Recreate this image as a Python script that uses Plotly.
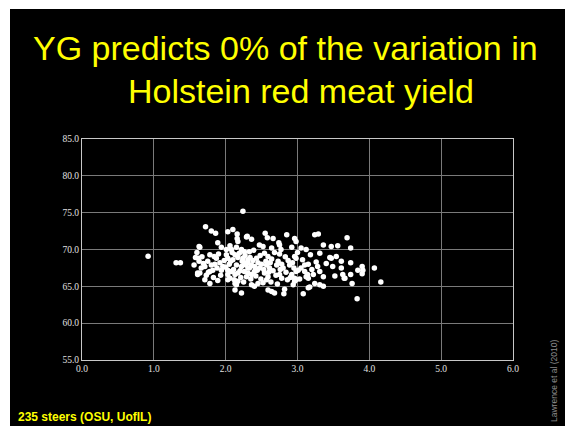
import plotly.graph_objects as go

# Yield grade (x) vs. red meat yield % (y) for 235 Holstein steers
yield_grade = [
    0.92, 1.31, 1.37, 1.58, 1.61, 1.63, 1.63,
    2.24, 1.72, 1.80, 1.86, 2.03, 2.10, 2.16, 2.16, 2.17, 2.29,
    1.64, 1.89, 1.94, 2.06, 2.08, 2.01, 2.15, 2.22, 2.26,
    1.62, 1.78, 1.84, 1.87, 1.75, 1.71, 1.66,
    1.80, 1.82, 1.78, 1.92, 1.96, 1.94,
    2.03, 2.07, 2.10, 2.13, 2.17, 2.24, 2.31, 2.15,
    2.22, 2.26, 2.31, 2.03,
    2.08, 2.13, 2.17, 1.64,
    1.61, 1.71, 1.78, 1.89, 2.03, 2.03, 2.13,
    2.15, 2.17, 2.13, 2.22, 2.26, 2.29,
    2.30, 2.36, 2.55, 2.58, 2.66, 2.85, 2.96, 2.98,
    2.47, 2.52, 2.33, 2.64, 2.75, 2.77, 2.92,
    2.54, 2.59, 2.64, 2.75, 2.96,
    2.31, 2.36, 2.40, 2.33, 2.45, 2.47, 2.57, 2.61,
    2.73, 2.78, 2.80, 2.89, 2.95, 2.98,
    2.31, 2.36, 2.40, 2.54, 2.59, 2.57, 2.75, 2.78,
    2.92, 2.96, 2.98,
    2.36, 2.40, 2.45, 2.59, 2.64, 2.68, 2.82, 2.81,
    2.94, 2.96,
    3.24, 3.29, 3.36, 3.47, 3.56, 3.69,
    3.05, 3.12, 3.31, 3.45, 3.47, 3.54, 3.61,
    2.98, 3.26, 3.10, 3.15, 3.05, 3.01,
    3.31, 3.36, 3.49, 3.61,
    3.10, 3.14, 3.15, 3.12, 3.63, 3.65,
    3.24, 3.31, 3.36, 3.15, 3.17, 3.08,
    3.74, 3.74, 3.84, 3.90, 3.91, 3.90, 4.07, 3.74, 3.66, 3.76, 4.16, 3.83,
    1.56, 1.60, 1.67, 1.69, 1.73, 1.76, 1.83, 1.85, 1.88, 1.90,
    1.93, 1.98, 2.00, 2.01, 2.05, 2.06, 2.09, 2.11, 2.12, 2.19,
    2.20, 2.21, 2.23, 2.25, 2.27, 2.28, 2.34, 2.35, 2.38, 2.39,
    2.42, 2.43, 2.44, 2.48, 2.49, 2.50, 2.52, 2.53, 2.56, 2.60,
    2.62, 2.63, 2.66, 2.68, 2.70, 2.71, 2.72, 2.74, 2.76, 2.83,
    2.84, 2.86, 2.87, 2.90, 2.93, 3.00, 3.03, 3.07, 3.18, 3.20,
    3.22, 3.28, 3.40, 3.52,
]
red_meat_yield = [
    69.1, 68.2, 68.2, 68.9, 66.8, 70.4, 68.4,
    75.2, 73.1, 72.5, 72.2, 72.4, 72.7, 72.1, 71.5, 71.1, 71.7,
    70.3, 70.9, 70.3, 70.5, 70.0, 70.0, 70.3, 70.0, 69.7,
    68.8, 69.3, 69.05, 68.8, 68.4, 67.7, 67.5,
    67.9, 67.2, 67.0, 68.2, 67.7, 67.2,
    68.8, 68.4, 68.6, 69.3, 68.9, 68.8, 68.6, 67.9,
    67.7, 68.2, 67.5, 67.2,
    67.0, 66.6, 66.8, 66.8,
    66.6, 65.9, 65.4, 65.8, 66.6, 65.9, 65.4,
    65.2, 65.7, 64.5, 64.1, 67.0, 66.3,
    71.8, 71.4, 72.2, 71.6, 71.5, 72.0, 71.5, 71.1,
    70.6, 70.4, 69.7, 70.2, 70.6, 70.0, 70.3,
    69.5, 69.05, 68.7, 69.4, 69.05,
    68.2, 67.9, 67.7, 67.5, 68.2, 67.5, 67.9, 67.5,
    68.4, 68.0, 67.5, 67.9, 67.5, 67.0,
    66.8, 66.6, 67.0, 66.8, 66.3, 65.9, 66.6, 66.1,
    66.6, 66.1, 65.9,
    65.2, 65.0, 65.4, 64.5, 64.3, 64.1, 64.6, 64.0,
    65.2, 65.7,
    72.0, 72.1, 70.6, 70.4, 70.5, 71.6,
    70.2, 70.0, 69.5, 68.9, 68.8, 69.05, 68.4,
    68.8, 68.3, 67.9, 68.0, 67.5, 67.2,
    67.0, 66.3, 67.7, 67.5,
    67.0, 66.6, 66.1, 66.3, 66.6, 66.1,
    65.4, 65.2, 65.0, 64.8, 64.9, 64.0,
    70.2, 68.2, 67.2, 67.7, 67.2, 66.7, 67.5, 66.6, 66.1, 65.4, 65.6, 63.3,
    67.9, 69.6, 69.0, 68.1, 66.5, 66.9, 66.2, 68.0, 67.5, 69.4,
    66.5, 68.5, 67.6, 69.3, 68.0, 66.1, 69.6, 67.3, 65.9, 69.5,
    67.1, 66.2, 68.4, 65.6, 69.2, 67.9, 68.9, 66.0, 68.5, 69.9,
    66.4, 68.8, 67.2, 69.2, 66.0, 68.0, 65.5, 67.3, 68.4, 66.9,
    68.2, 65.6, 67.1, 69.6, 66.5, 67.9, 65.3, 70.9, 67.3, 69.0,
    66.9, 65.9, 68.5, 66.2, 68.2, 69.6, 66.0, 68.6, 69.3, 67.3,
    66.6, 67.7, 68.1, 66.4,
]

x_ticks = [0, 1, 2, 3, 4, 5, 6]
y_ticks = [55, 60, 65, 70, 75, 80, 85]

W, H = 565, 426
ML, MR, MT, MB = 82, 52, 139, 66
PW, PH = W - ML - MR, H - MT - MB


def px(x):
    return (x - ML) / PW


def py(y):
    return (H - MB - y) / PH


YELLOW = "#FFFF00"

fig = go.Figure(
    go.Scatter(
        x=yield_grade,
        y=red_meat_yield,
        mode="markers",
        marker=dict(color="white", size=5.5, line=dict(width=0)),
        hoverinfo="x+y",
    )
)

axis_common = dict(
    showgrid=True,
    gridcolor="#7a7a7a",
    gridwidth=1,
    showline=True,
    linecolor="#c8c8c8",
    linewidth=1,
    mirror=True,
    zeroline=False,
    ticks="",
    tickformat=".1f",
    tickfont=dict(family="Liberation Serif, Times New Roman, serif", size=9.5, color="#e0e0e0"),
)

fig.update_xaxes(range=[0, 6], tickvals=x_ticks, **axis_common)
fig.update_yaxes(range=[55, 85], tickvals=y_ticks, **axis_common)

fig.update_layout(
    width=W,
    height=H,
    margin=dict(l=ML, r=MR, t=MT, b=MB, pad=0),
    paper_bgcolor="white",
    plot_bgcolor="black",
    showlegend=False,
    shapes=[
        dict(
            type="rect", xref="paper", yref="paper", layer="below",
            x0=px(10), x1=px(W + 10), y0=py(H + 10), y1=py(9),
            fillcolor="black", line=dict(width=0),
        )
    ],
    annotations=[
        dict(
            text="YG predicts 0% of the variation in",
            xref="paper", yref="paper", x=px(31), y=py(48),
            xanchor="left", yanchor="middle", showarrow=False,
            font=dict(family="Liberation Sans, Arial, sans-serif", size=34, color=YELLOW),
        ),
        dict(
            text="Holstein red meat yield",
            xref="paper", yref="paper", x=px(126), y=py(91),
            xanchor="left", yanchor="middle", showarrow=False,
            font=dict(family="Liberation Sans, Arial, sans-serif", size=34, color=YELLOW),
        ),
        dict(
            text="<b>235 steers (OSU, UofIL)</b>",
            xref="paper", yref="paper", x=px(16), y=py(417),
            xanchor="left", yanchor="middle", showarrow=False,
            font=dict(family="Liberation Sans, Arial, sans-serif", size=12, color=YELLOW),
        ),
        dict(
            text="Lawrence et al (2010)",
            xref="paper", yref="paper", x=px(554), y=py(381),
            xanchor="center", yanchor="middle", showarrow=False, textangle=-90,
            font=dict(family="Liberation Sans, Arial, sans-serif", size=8.5, color="#8c8c8c"),
        ),
    ],
)

fig.write_html("out.html")
